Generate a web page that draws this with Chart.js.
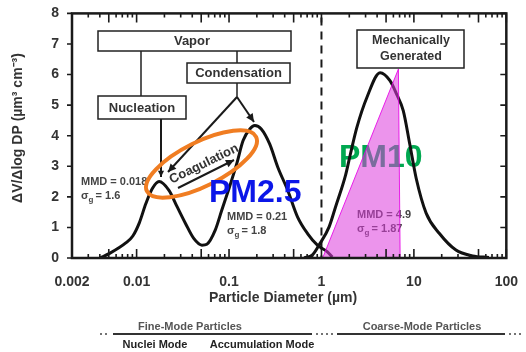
<!DOCTYPE html>
<html>
<head>
<meta charset="utf-8">
<script src="https://cdn.jsdelivr.net/npm/chart.js@4.4.1/dist/chart.umd.min.js"></script>
<style>
html, body { margin: 0; padding: 0; background: #fff; }
#wrap { width: 526px; height: 352px; }
</style>
</head>
<body>
<div id="wrap"><canvas id="chartPSD" width="526" height="352"></canvas></div>
<script>
/* ---- données ---- */
var xTicks = [0.002, 0.01, 0.1, 1, 10, 100];
var xTickLabels = ['0.002', '0.01', '0.1', '1', '10', '100'];

// mode fin : nucléation + accumulation
var fineX = [0.0040, 0.0051, 0.0077, 0.0091, 0.0107, 0.0126, 0.0148, 0.0175, 0.0224, 0.0275, 0.0338, 0.0415, 0.0509, 0.0576, 0.0709, 0.0834, 0.0983, 0.121, 0.142, 0.168, 0.190, 0.223, 0.275, 0.337, 0.432, 0.552, 0.707, 0.904, 1.16, 1.31];
var fineY = [0, 0.15, 0.50, 0.72, 1.15, 1.78, 2.27, 2.50, 2.21, 1.67, 1.13, 0.64, 0.42, 0.45, 0.91, 1.56, 2.21, 3.08, 3.84, 4.22, 4.33, 4.22, 3.73, 2.97, 2.21, 1.34, 0.80, 0.42, 0.20, 0.03];

// mode grossier (mécanique)
var coarseX = [0.65, 0.80, 0.94, 1.21, 1.42, 1.82, 2.06, 2.42, 3.10, 4.31, 5.51, 6.50, 7.67, 9.02, 10.6, 13.6, 18.9, 28.5, 43.1, 64.8];
var coarseY = [0, 0.10, 0.42, 1.02, 1.67, 2.70, 3.41, 4.28, 5.25, 6.06, 5.80, 5.36, 4.82, 3.73, 2.60, 1.46, 0.80, 0.26, 0.07, 0.02];

// zone PM10 (triangle rose)
var pmX = [1.03, 6.8, 7.1];
var pmY = [0, 6.18, 0];

function pts(xs, ys) {
    var out = [];
    for (var i = 0; i < xs.length; i++) out.push({ x: xs[i], y: ys[i] });
    return out;
}

var FONT = '"Liberation Sans", Arial, sans-serif';
var INK = '#1a1a1a';
var TXT = '#333333';

function arrow(ctx, x1, y1, x2, y2, head) {
    ctx.beginPath(); ctx.moveTo(x1, y1); ctx.lineTo(x2, y2); ctx.stroke();
    var a = Math.atan2(y2 - y1, x2 - x1);
    ctx.beginPath();
    ctx.moveTo(x2, y2);
    ctx.lineTo(x2 - head * Math.cos(a - 0.45), y2 - head * Math.sin(a - 0.45));
    ctx.lineTo(x2 - head * Math.cos(a + 0.45), y2 - head * Math.sin(a + 0.45));
    ctx.closePath(); ctx.fill();
}

function box(ctx, x, y, w, h) {
    ctx.fillStyle = '#fff';
    ctx.fillRect(x, y, w, h);
    ctx.strokeRect(x, y, w, h);
}

function mmd(ctx, x, y, txt1, sg) {
    ctx.font = 'bold 11px ' + FONT;
    ctx.fillStyle = '#444';
    ctx.textAlign = 'left';
    ctx.textBaseline = 'middle';
    ctx.fillText(txt1, x, y);
    ctx.fillText('\u03c3', x, y + 14);
    var w = ctx.measureText('\u03c3').width;
    ctx.font = 'bold 8px ' + FONT;
    ctx.fillText('g', x + w, y + 18);
    ctx.font = 'bold 11px ' + FONT;
    ctx.fillText(' = ' + sg, x + w + 4, y + 14);
}

/* fond blanc */
const fondPlugin = {
    id: 'fond',
    beforeDraw: function (chart) {
        var ctx = chart.ctx;
        ctx.save();
        ctx.fillStyle = '#fff';
        ctx.fillRect(0, 0, chart.width, chart.height);
        ctx.restore();
    }
};

/* éléments sous les courbes : ligne pointillée, textes MMD, PM10 */
const dessousPlugin = {
    id: 'dessous',
    beforeDatasetsDraw: function (chart) {
        var ctx = chart.ctx, a = chart.chartArea, sx = chart.scales.x;
        ctx.save();
        var x1 = sx.getPixelForValue(1);
        ctx.strokeStyle = INK;
        ctx.lineWidth = 2;
        ctx.setLineDash([8, 6]);
        ctx.beginPath(); ctx.moveTo(x1, a.top + 4); ctx.lineTo(x1, a.bottom); ctx.stroke();
        ctx.setLineDash([]);

        mmd(ctx, 81, 182, 'MMD = 0.018', '1.6');
        mmd(ctx, 227, 217, 'MMD = 0.21', '1.8');
        mmd(ctx, 357, 215, 'MMD = 4.9', '1.87');

        ctx.font = 'bold 32px ' + FONT;
        ctx.fillStyle = '#00a850';
        ctx.textAlign = 'left';
        ctx.textBaseline = 'alphabetic';
        ctx.fillText('PM10', 339, 167);
        ctx.restore();
    }
};

/* cadre, graduations, boîtes, flèches */
const dessusPlugin = {
    id: 'dessus',
    afterDatasetsDraw: function (chart) {
        var ctx = chart.ctx, a = chart.chartArea, sx = chart.scales.x, sy = chart.scales.y;
        ctx.save();
        ctx.strokeStyle = INK;
        ctx.lineWidth = 1.6;
        // graduations log haut / bas
        for (var k = -3; k <= 2; k++) {
            for (var m = 1; m <= 9; m++) {
                var v = m * Math.pow(10, k);
                if (v < 0.002 || v > 100) continue;
                var px = sx.getPixelForValue(v);
                var len = (m === 1 || m === 5) ? 9 : 4;
                ctx.beginPath();
                ctx.moveTo(px, a.bottom); ctx.lineTo(px, a.bottom - len);
                ctx.moveTo(px, a.top); ctx.lineTo(px, a.top + len);
                ctx.stroke();
            }
        }
        // graduations y
        for (var j = 0; j <= 8; j++) {
            var py = sy.getPixelForValue(j);
            ctx.beginPath();
            ctx.moveTo(a.left, py); ctx.lineTo(a.left - 5, py);
            ctx.moveTo(a.right, py); ctx.lineTo(a.right - 6, py);
            ctx.stroke();
        }
        // cadre
        ctx.lineWidth = 2.5;
        ctx.strokeRect(a.left, a.top, a.right - a.left, a.bottom - a.top);

        // boîtes
        ctx.lineWidth = 1.5;
        ctx.strokeStyle = '#222';
        ctx.beginPath();
        ctx.moveTo(141, 51); ctx.lineTo(141, 96);
        ctx.moveTo(237, 51); ctx.lineTo(237, 63);
        ctx.moveTo(237, 83); ctx.lineTo(237, 97);
        ctx.stroke();
        box(ctx, 98, 31, 193, 20);
        box(ctx, 187, 63, 103, 20);
        box(ctx, 98, 96, 88, 23);
        box(ctx, 357, 30, 107, 38);

        ctx.fillStyle = TXT;
        ctx.textAlign = 'center';
        ctx.textBaseline = 'middle';
        ctx.font = 'bold 13px ' + FONT;
        ctx.fillText('Vapor', 192, 41.5);
        ctx.fillText('Condensation', 238.5, 73.5);
        ctx.fillText('Nucleation', 142, 108);
        ctx.font = 'bold 12.5px ' + FONT;
        ctx.fillText('Mechanically', 411, 41);
        ctx.fillText('Generated', 411, 57);

        // flèches
        ctx.strokeStyle = INK;
        ctx.fillStyle = INK;
        ctx.lineWidth = 2;
        arrow(ctx, 161, 119, 161, 177, 7);
        arrow(ctx, 237, 97, 168, 172, 9);
        arrow(ctx, 237, 97, 254, 122, 9);
        arrow(ctx, 178, 188, 234, 160, 9);

        // Coagulation
        ctx.save();
        ctx.translate(204, 164);
        ctx.rotate(-26 * Math.PI / 180);
        ctx.font = 'bold 13px ' + FONT;
        ctx.fillStyle = TXT;
        ctx.fillText('Coagulation', 0, 0);
        ctx.restore();

        // ellipse orange
        ctx.strokeStyle = '#f07d22';
        ctx.lineWidth = 4;
        ctx.beginPath();
        ctx.ellipse(201.5, 164, 61, 22, -26.5 * Math.PI / 180, 0, 2 * Math.PI);
        ctx.stroke();

        // PM2.5
        ctx.font = 'bold 32px ' + FONT;
        ctx.fillStyle = '#0b16e8';
        ctx.textAlign = 'left';
        ctx.textBaseline = 'alphabetic';
        ctx.fillText('PM2.5', 209, 202);
        ctx.restore();
    },
    afterDraw: function (chart) {
        var ctx = chart.ctx;
        ctx.save();
        ctx.fillStyle = TXT;
        ctx.textAlign = 'center';
        ctx.textBaseline = 'middle';
        ctx.font = 'bold 14px ' + FONT;
        ctx.fillText('Particle Diameter (\u00b5m)', 283, 298);
        ctx.save();
        ctx.translate(18, 128);
        ctx.rotate(-Math.PI / 2);
        ctx.fillText('\u0394V/\u0394log DP (\u00b5m\u00b3 cm\u207b\u00b3)', 0, 0);
        ctx.restore();

        // légende des modes en bas
        ctx.font = 'bold 11px ' + FONT;
        ctx.fillStyle = '#555';
        ctx.fillText('Fine-Mode Particles', 190, 327);
        ctx.fillText('Coarse-Mode Particles', 422, 327);
        ctx.fillStyle = '#222';
        ctx.fillText('Nuclei Mode', 155, 345);
        ctx.fillText('Accumulation Mode', 262, 345);
        ctx.strokeStyle = '#333';
        ctx.lineWidth = 2;
        ctx.beginPath();
        ctx.moveTo(113, 334); ctx.lineTo(312, 334);
        ctx.moveTo(337, 334); ctx.lineTo(505, 334);
        ctx.stroke();
        ctx.fillStyle = '#444';
        [101, 106, 317, 322, 327, 332, 510, 515, 520].forEach(function (d) {
            ctx.beginPath(); ctx.arc(d, 334, 1, 0, 2 * Math.PI); ctx.fill();
        });
        ctx.restore();
    }
};

const chartElem = document.getElementById('chartPSD').getContext('2d');

const chartObj = new Chart(chartElem, {
    type: 'line',
    data: {
        datasets: [
            {
                label: 'PM10',
                data: pts(pmX, pmY),
                borderColor: 'rgba(230,0,230,0.85)',
                backgroundColor: 'rgba(220,60,220,0.55)',
                borderWidth: 1,
                fill: 'origin',
                tension: 0,
                pointRadius: 0
            },
            {
                label: 'Fine',
                data: pts(fineX, fineY),
                borderColor: '#111',
                borderWidth: 3,
                fill: false,
                cubicInterpolationMode: 'monotone',
                pointRadius: 0
            },
            {
                label: 'Coarse',
                data: pts(coarseX, coarseY),
                borderColor: '#111',
                borderWidth: 3,
                fill: false,
                cubicInterpolationMode: 'monotone',
                pointRadius: 0
            }
        ]
    },
    options: {
        responsive: false,
        animation: false,
        layout: { padding: { top: 9, right: 15, left: 0, bottom: 0 } },
        plugins: {
            legend: { display: false },
            tooltip: { enabled: false }
        },
        scales: {
            x: {
                type: 'logarithmic',
                min: 0.002,
                max: 100,
                afterBuildTicks: function (scale) {
                    scale.ticks = xTicks.map(function (v) { return { value: v }; });
                },
                afterFit: function (scale) { scale.height = 94; },
                grid: { display: false },
                border: { display: false },
                ticks: {
                    autoSkip: false,
                    maxRotation: 0,
                    padding: 8,
                    color: TXT,
                    font: { family: FONT, size: 14, weight: 'bold' },
                    callback: function (v, i) { return xTickLabels[i]; }
                }
            },
            y: {
                min: 0,
                max: 8,
                afterFit: function (scale) { scale.width = 72; },
                grid: { display: false },
                border: { display: false },
                ticks: {
                    stepSize: 1,
                    padding: 5,
                    color: TXT,
                    font: { family: FONT, size: 14, weight: 'bold' }
                }
            }
        }
    },
    plugins: [fondPlugin, dessousPlugin, dessusPlugin]
});
</script>
</body>
</html>
